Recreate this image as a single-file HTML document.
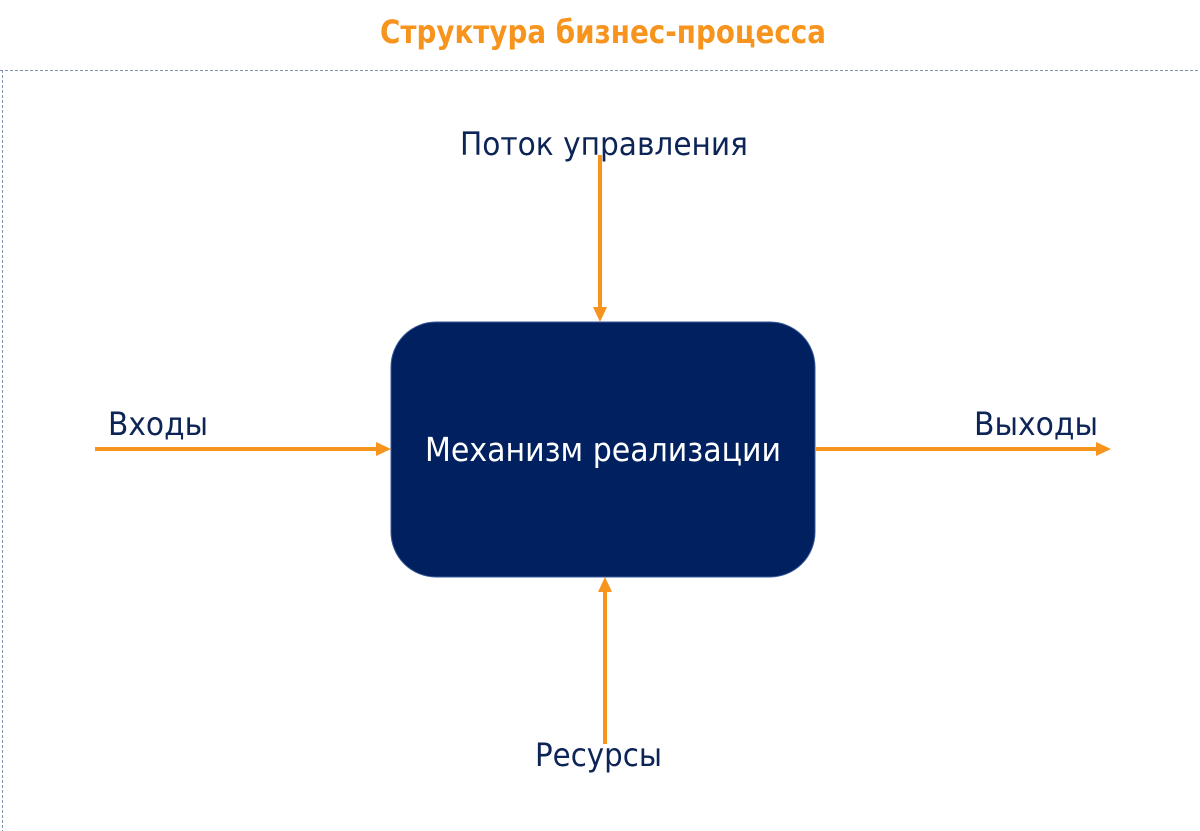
<!DOCTYPE html>
<html><head><meta charset="utf-8"><style>
html,body{margin:0;padding:0;background:#fff;width:1200px;height:831px;overflow:hidden}
text{font-family:"DejaVu Sans","Liberation Sans",sans-serif}
</style></head><body>
<svg width="1200" height="831" viewBox="0 0 1200 831" xmlns="http://www.w3.org/2000/svg">
<text x="603" y="43" text-anchor="middle" font-size="32" font-weight="bold" fill="#F7941D" textLength="446" lengthAdjust="spacingAndGlyphs">Структура бизнес-процесса</text>
<line x1="0" y1="70.5" x2="1200" y2="70.5" stroke="#7f93b0" stroke-width="1" stroke-dasharray="3,2"/>
<line x1="2.5" y1="70" x2="2.5" y2="831" stroke="#7f93b0" stroke-width="1" stroke-dasharray="3,2"/>
<rect x="391" y="322" width="424" height="255" rx="45" ry="45" fill="#002060" stroke="#3a5a9a" stroke-width="1"/>
<text x="603" y="461" text-anchor="middle" font-size="33" fill="#fff" textLength="356" lengthAdjust="spacingAndGlyphs">Механизм реализации</text>
<g stroke="#F7941D" stroke-width="4" fill="none">
<line x1="600" y1="155" x2="600" y2="310"/>
<line x1="605" y1="744" x2="605" y2="590"/>
<line x1="95" y1="449" x2="378" y2="449"/>
<line x1="815" y1="449" x2="1098" y2="449"/>
</g>
<g fill="#F7941D">
<polygon points="593,307 607,307 600,322"/>
<polygon points="598,592 612,592 605,577"/>
<polygon points="376,442 376,456 391,449"/>
<polygon points="1096,442 1096,456 1111,449"/>
</g>
<g fill="#0d2457" font-size="32">
<text x="604" y="155" text-anchor="middle" textLength="288" lengthAdjust="spacingAndGlyphs">Поток управления</text>
<text x="108" y="435" textLength="100" lengthAdjust="spacingAndGlyphs">Входы</text>
<text x="974" y="435" textLength="124" lengthAdjust="spacingAndGlyphs">Выходы</text>
<text x="535" y="766" textLength="127" lengthAdjust="spacingAndGlyphs">Ресурсы</text>
</g>
</svg>
</body></html>
